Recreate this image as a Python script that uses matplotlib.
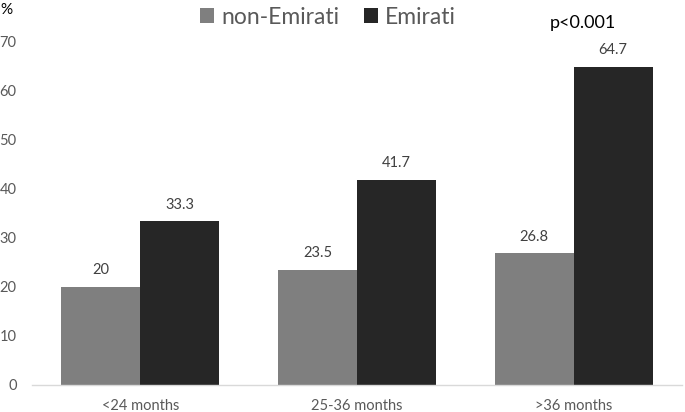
import matplotlib
matplotlib.use("Agg")
import matplotlib.pyplot as plt
import numpy as np

categories = ["<24 months", "25-36 months", ">36 months"]
non_emirati = [20, 23.5, 26.8]
emirati = [33.3, 41.7, 64.7]
yticks = [0, 10, 20, 30, 40, 50, 60, 70]

plt.rcParams['font.family'] = ['Lato', 'DejaVu Sans']

fig = plt.figure(figsize=(6.85, 4.12), dpi=100)
ax = fig.add_axes([32/685, 27/412, 650/685, (385-41)/412])

x = np.arange(len(categories))
w = 79/216.7
c_gray = "#7f7f7f"
c_dark = "#262626"
b1 = ax.bar(x - w/2, non_emirati, w, color=c_gray, label="non-Emirati")
b2 = ax.bar(x + w/2, emirati, w, color=c_dark, label="Emirati")

for bars, vals in ((b1, non_emirati), (b2, emirati)):
    for r, v in zip(bars, vals):
        ax.annotate(f"{v:g}", (r.get_x() + r.get_width()/2, v), xytext=(0, 7),
                    textcoords="offset points", ha="center", va="bottom",
                    fontsize=10.5, color="#404040")

ax.set_xlim(-0.5, 2.5)
ax.set_ylim(0, 70)
ax.set_yticks(yticks)
ax.set_xticks(x)
ax.set_xticklabels(categories)
ax.tick_params(axis="both", length=0, labelsize=10.5, colors="#595959")
ax.tick_params(axis="x", pad=10)
ax.tick_params(axis="y", pad=11)
for s in ["top", "right", "left"]:
    ax.spines[s].set_visible(False)
ax.spines["bottom"].set_color("#d9d9d9")
ax.spines["bottom"].set_linewidth(1)

fig.text(0.0, 1 - 10/412, "%", fontsize=11, color="black", ha="left", va="center")
fig.text(583/685, 1 - 23/412, "p<0.001", fontsize=13, color="black", ha="center", va="center")

leg = fig.legend(handles=[b1, b2], loc="center", bbox_to_anchor=(328/685, 1 - 17/412),
                 ncol=2, frameon=False, fontsize=16.5, handlelength=0.6, handleheight=0.6,
                 handletextpad=0.3, columnspacing=1.1, labelcolor="#595959",
                 borderpad=0.1)

fig.savefig("out.png", dpi=100)
